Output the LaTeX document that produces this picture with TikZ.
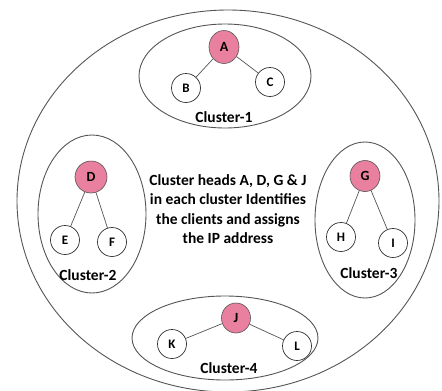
\documentclass[tikz,border=0pt]{standalone}
\usepackage{fontspec}
\setmainfont{Carlito}
\usetikzlibrary{shapes.geometric}
\definecolor{headpink}{RGB}{234,128,160}
\definecolor{linegray}{RGB}{85,85,85}
\tikzset{
  ring/.style={draw=linegray, line width=0.9pt},
  head/.style={ellipse, draw=linegray, fill=headpink, line width=0.6pt, minimum width=30pt, minimum height=33pt, inner sep=0pt, font=\fontsize{14}{14}\selectfont\bfseries},
  client/.style={circle, draw=black!80, fill=white, line width=0.7pt, minimum size=29pt, inner sep=0pt, font=\fontsize{13}{13}\selectfont\bfseries},
  clabel/.style={font=\fontsize{15.5}{16}\selectfont\bfseries, inner sep=0pt},
  link/.style={draw=linegray, line width=0.7pt},
}
\begin{document}
\begin{tikzpicture}[x=1pt,y=-1pt]
\useasboundingbox (0,0) rectangle (442,391);
\fill[white] (0,0) rectangle (442,391);
% outer ellipse
\draw[ring] (228,201) ellipse [x radius=211, y radius=191];
% cluster ellipses
\draw[ring] (225,76) ellipse [x radius=86, y radius=52];
\draw[ring] (92,214) ellipse [x radius=54, y radius=79];
\draw[ring] (365,220) ellipse [x radius=50, y radius=78];
\draw[ring] (225,338) ellipse [x radius=93, y radius=42];
% cluster 1
\node[head] (A) at (224,47) {A};
\node[client] (B) at (186,88) {B};
\node[client] (C) at (270,82) {C};
\node[clabel] (L1) at (224,117) {Cluster-1};
% cluster 2
\node[head, minimum width=32pt, minimum height=32pt] (D) at (91,177) {D};
\node[client] (E) at (65,240) {E};
\node[client] (F) at (112,242) {F};
\node[clabel] (L2) at (88,275) {Cluster-2};
% cluster 3
\node[head, minimum width=30pt, minimum height=31pt] (G) at (365,176) {G};
\node[client] (H) at (341,237) {H};
\node[client] (I) at (393,243) {I};
\node[clabel] (L3) at (369,273) {Cluster-3};
% cluster 4
\node[head, minimum width=29pt, minimum height=30pt] (J) at (236,318) {J};
\node[client] (K) at (172,344) {K};
\node[client] (L) at (297,346) {L};
\node[clabel] (L4) at (229,368) {Cluster-4};
% links
\draw[link] (A) -- (B);
\draw[link] (A) -- (C);
\draw[link] (D) -- (E);
\draw[link] (D) -- (F);
\draw[link] (G) -- (H);
\draw[link] (G) -- (I);
\draw[link] (J) -- (K);
\draw[link] (J) -- (L);
% centre text
\node[align=center, font=\fontsize{15.5}{19.3}\selectfont\bfseries, inner sep=0pt] (T) at (228,209)
  {Cluster heads A, D, G \& J\\in each cluster Identifies\\the clients and assigns\\the IP address};
\end{tikzpicture}
\end{document}
